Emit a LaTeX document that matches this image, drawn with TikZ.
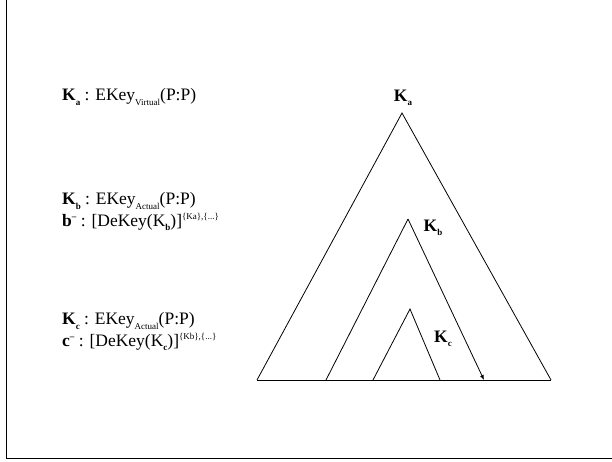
\documentclass[tikz,border=0pt]{standalone}
\usepackage{fontspec}
\setmainfont{Liberation Serif}
\usetikzlibrary{arrows.meta}
\newcommand{\lowsub}[1]{\raisebox{-4.5pt}{\fontsize{9}{9}\selectfont #1}}
\newcommand{\highsup}[1]{\raisebox{6.5pt}{\fontsize{9}{9}\selectfont #1}}
\begin{document}
\begin{tikzpicture}[x=1pt,y=-1pt,
  lbl/.style={anchor=west,inner sep=0pt,font=\fontsize{17.5}{19}\selectfont},
  tlbl/.style={anchor=center,inner sep=0pt,font=\fontsize{17.5}{19}\selectfont},
  edge/.style={line width=0.8pt}]
\useasboundingbox (0,0) rectangle (612,461);
\draw[line width=1pt] (6,0) -- (6,458) -- (612,458);
% left labels
\node[lbl] (la) at (62,97) {\textbf{K}\lowsub{\textbf{a}} : EKey\lowsub{Virtual}(P:P)};
\node[lbl] (lb1) at (62,201) {\textbf{K}\lowsub{\textbf{b}} : EKey\lowsub{Actual}(P:P)};
\node[lbl] (lb2) at (62,222) {\textbf{b}\highsup{\textbf{--}} : [DeKey(K\lowsub{\textbf{b}})]\highsup{\{Ka\},\{...\}}};
\node[lbl] (lc1) at (62,321) {\textbf{K}\lowsub{\textbf{c}} : EKey\lowsub{Actual}(P:P)};
\node[lbl] (lc2) at (62,342) {\textbf{c}\highsup{\textbf{--}} : [DeKey(K\lowsub{\textbf{c}})]\highsup{\{Kb\},\{...\}}};
% triangles
\coordinate (A) at (402,113);
\coordinate (AL) at (257,380);
\coordinate (AR) at (551,380);
\coordinate (B) at (408,219);
\coordinate (BL) at (326,380);
\coordinate (BR) at (484,380);
\coordinate (C) at (410,309);
\coordinate (CL) at (373,380);
\coordinate (CR) at (440,380);
\draw[edge] (AL) -- (AR);
\draw[edge] (AL) -- (A) -- (AR);
\draw[edge] (BL) -- (B);
\draw[edge,-{Latex[length=5pt,width=4pt]}] (B) -- (BR);
\draw[edge] (CL) -- (C) -- (CR);
% triangle labels
\node[tlbl] (ta) at (403,98) {\textbf{K}\lowsub{\textbf{a}}};
\node[tlbl] (tb) at (433,228) {\textbf{K}\lowsub{\textbf{b}}};
\node[tlbl] (tc) at (443,339) {\textbf{K}\lowsub{\textbf{c}}};
\end{tikzpicture}
\end{document}
